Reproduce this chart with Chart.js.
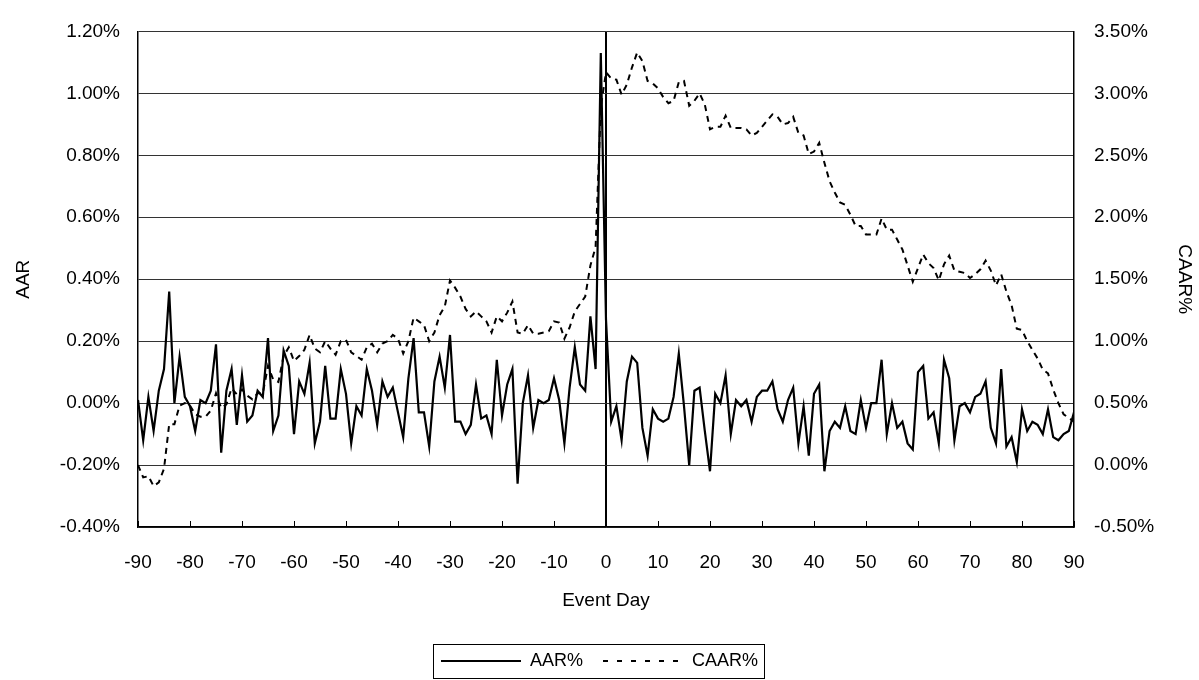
<!DOCTYPE html>
<html>
<head>
  <meta charset="UTF-8">
  <title>AAR and CAAR around the event day</title>
  <script src="https://cdn.jsdelivr.net/npm/chart.js"></script>
  <style>
    body { margin: 0; background: #fff; }
    #wrap { width: 1199px; height: 680px; }
  </style>
</head>
<body>
  <div id="wrap"><canvas id="eventChart" width="1199" height="680"></canvas></div>

  <script>
    // event days -90 .. 90
    const days = [
      -90, -89, -88, -87, -86, -85, -84, -83, -82, -81,
      -80, -79, -78, -77, -76, -75, -74, -73, -72, -71,
      -70, -69, -68, -67, -66, -65, -64, -63, -62, -61,
      -60, -59, -58, -57, -56, -55, -54, -53, -52, -51,
      -50, -49, -48, -47, -46, -45, -44, -43, -42, -41,
      -40, -39, -38, -37, -36, -35, -34, -33, -32, -31,
      -30, -29, -28, -27, -26, -25, -24, -23, -22, -21,
      -20, -19, -18, -17, -16, -15, -14, -13, -12, -11,
      -10, -9, -8, -7, -6, -5, -4, -3, -2, -1,
      0, 1, 2, 3, 4, 5, 6, 7, 8, 9,
      10, 11, 12, 13, 14, 15, 16, 17, 18, 19,
      20, 21, 22, 23, 24, 25, 26, 27, 28, 29,
      30, 31, 32, 33, 34, 35, 36, 37, 38, 39,
      40, 41, 42, 43, 44, 45, 46, 47, 48, 49,
      50, 51, 52, 53, 54, 55, 56, 57, 58, 59,
      60, 61, 62, 63, 64, 65, 66, 67, 68, 69,
      70, 71, 72, 73, 74, 75, 76, 77, 78, 79,
      80, 81, 82, 83, 84, 85, 86, 87, 88, 89,
      90
    ];

    // average abnormal return, % (left axis)
    const aar = [
      0.01, -0.12, 0.02, -0.09, 0.04, 0.11, 0.36, 0.00, 0.15, 0.02,
      -0.01, -0.09, 0.01, 0.00, 0.04, 0.19, -0.16, 0.04, 0.11, -0.07,
      0.09, -0.06, -0.04, 0.04, 0.02, 0.21, -0.09, -0.04, 0.17, 0.12,
      -0.10, 0.07, 0.03, 0.13, -0.13, -0.06, 0.12, -0.05, -0.05, 0.11,
      0.03, -0.13, -0.01, -0.04, 0.11, 0.04, -0.07, 0.07, 0.02, 0.05,
      -0.03, -0.11, 0.08, 0.21, -0.03, -0.03, -0.14, 0.07, 0.15, 0.05,
      0.22, -0.06, -0.06, -0.10, -0.07, 0.06, -0.05, -0.04, -0.10, 0.14,
      -0.04, 0.06, 0.11, -0.26, 0.00, 0.09, -0.08, 0.01, 0.00, 0.01,
      0.08, 0.01, -0.13, 0.05, 0.18, 0.06, 0.04, 0.28, 0.11, 1.13,
      0.27, -0.06, -0.01, -0.12, 0.07, 0.15, 0.13, -0.08, -0.17, -0.02,
      -0.05, -0.06, -0.05, 0.02, 0.16, -0.01, -0.20, 0.04, 0.05, -0.09,
      -0.22, 0.03, 0.00, 0.09, -0.10, 0.01, -0.01, 0.01, -0.06, 0.02,
      0.04, 0.04, 0.07, -0.02, -0.06, 0.01, 0.05, -0.13, -0.01, -0.17,
      0.03, 0.06, -0.22, -0.09, -0.06, -0.08, -0.01, -0.09, -0.10, 0.01,
      -0.08, 0.00, 0.00, 0.14, -0.10, 0.00, -0.08, -0.06, -0.13, -0.15,
      0.10, 0.12, -0.05, -0.03, -0.13, 0.14, 0.08, -0.12, -0.01, 0.00,
      -0.03, 0.02, 0.03, 0.07, -0.08, -0.13, 0.11, -0.14, -0.11, -0.19,
      -0.02, -0.09, -0.06, -0.07, -0.10, -0.02, -0.11, -0.12, -0.10, -0.09,
      -0.03
    ];

    // cumulative average abnormal return, % (right axis)
    const caar = [
      0.00, -0.10, -0.09, -0.17, -0.14, -0.03, 0.33, 0.33, 0.48, 0.50,
      0.48, 0.41, 0.39, 0.39, 0.44, 0.58, 0.46, 0.49, 0.62, 0.57,
      0.61, 0.56, 0.53, 0.58, 0.58, 0.80, 0.69, 0.67, 0.88, 0.95,
      0.84, 0.88, 0.93, 1.05, 0.94, 0.91, 1.00, 0.94, 0.89, 1.00,
      1.01, 0.91, 0.88, 0.85, 0.95, 0.98, 0.91, 0.98, 1.00, 1.05,
      1.02, 0.90, 1.00, 1.19, 1.16, 1.13, 1.00, 1.07, 1.21, 1.28,
      1.49, 1.43, 1.36, 1.26, 1.20, 1.24, 1.20, 1.16, 1.07, 1.20,
      1.16, 1.23, 1.32, 1.07, 1.06, 1.13, 1.06, 1.06, 1.07, 1.08,
      1.16, 1.15, 1.02, 1.11, 1.24, 1.30, 1.36, 1.61, 1.76, 2.89,
      3.17, 3.12, 3.11, 2.99, 3.07, 3.21, 3.33, 3.26, 3.10, 3.08,
      3.04, 2.97, 2.92, 2.94, 3.09, 3.10, 2.90, 2.94, 3.00, 2.91,
      2.71, 2.73, 2.73, 2.82, 2.72, 2.72, 2.72, 2.71, 2.66, 2.68,
      2.73, 2.78, 2.83, 2.81, 2.75, 2.76, 2.81, 2.68, 2.66, 2.51,
      2.53, 2.60, 2.44, 2.29, 2.20, 2.12, 2.10, 2.02, 1.93, 1.93,
      1.86, 1.86, 1.86, 1.99, 1.90, 1.90, 1.82, 1.74, 1.61, 1.48,
      1.59, 1.70, 1.63, 1.59, 1.49, 1.62, 1.69, 1.57, 1.56, 1.55,
      1.51, 1.54, 1.58, 1.65, 1.57, 1.45, 1.54, 1.40, 1.29, 1.10,
      1.09, 1.00, 0.93, 0.86, 0.77, 0.74, 0.61, 0.50, 0.41, 0.38,
      0.35
    ];

    const FONT = "'Liberation Sans', Arial, sans-serif";

    // small tick marks pointing up into the plot, like the original
    const insideTicks = {
      id: 'insideTicks',
      afterDatasetsDraw(chart) {
        const x = chart.scales.x, ctx = chart.ctx, bottom = chart.chartArea.bottom;
        ctx.save();
        ctx.strokeStyle = '#000';
        ctx.lineWidth = 1;
        x.ticks.forEach(t => {
          const px = Math.round(x.getPixelForValue(t.value)) + 0.5;
          ctx.beginPath();
          ctx.moveTo(px, bottom);
          ctx.lineTo(px, bottom - 6);
          ctx.stroke();
        });
        ctx.restore();
      }
    };

    // frame round the legend
    const legendFrame = {
      id: 'legendFrame',
      afterDraw(chart) {
        const boxes = chart.legend && chart.legend.legendHitBoxes;
        if (!boxes || !boxes.length) return;
        const l = Math.min(...boxes.map(b => b.left)) - 8;
        const r = Math.max(...boxes.map(b => b.left + b.width)) + 6;
        const t = Math.min(...boxes.map(b => b.top)) - 8;
        const b2 = Math.max(...boxes.map(b => b.top + b.height)) + 8;
        const ctx = chart.ctx;
        ctx.save();
        ctx.strokeStyle = '#000';
        ctx.lineWidth = 1;
        ctx.strokeRect(Math.round(l) + 0.5, Math.round(t) + 0.5, Math.round(r - l), Math.round(b2 - t));
        ctx.restore();
      }
    };

    new Chart(document.getElementById('eventChart'), {
      type: 'line',
      data: {
        labels: days,
        datasets: [
          {
            label: 'AAR%',
            data: aar,
            yAxisID: 'y',
            borderColor: '#000',
            backgroundColor: '#000',
            borderWidth: 2.2,
            pointRadius: 0,
            tension: 0
          },
          {
            label: 'CAAR%',
            data: caar,
            yAxisID: 'y1',
            borderColor: '#000',
            backgroundColor: '#000',
            borderWidth: 2,
            borderDash: [6, 5],
            pointRadius: 0,
            tension: 0
          }
        ]
      },
      options: {
        responsive: false,
        animation: false,
        layout: { padding: { top: 18, left: 0, right: 0, bottom: 0 } },
        plugins: {
          tooltip: { enabled: false },
          legend: {
            position: 'bottom',
            labels: {
              usePointStyle: true,
              pointStyle: 'line',
              pointStyleWidth: 80,
              color: '#000',
              font: { family: FONT, size: 18 },
              padding: 20,
              generateLabels(chart) {
                const items = Chart.defaults.plugins.legend.labels.generateLabels(chart);
                items.forEach(it => {
                  const ds = chart.data.datasets[it.datasetIndex];
                  it.lineDash = ds.borderDash ? [5, 9] : [];
                  it.lineWidth = 2;
                  it.strokeStyle = '#000';
                });
                return items;
              }
            }
          }
        },
        scales: {
          x: {
            type: 'linear',
            min: -90,
            max: 90,
            afterFit(scale) { scale.height = 680 - 527 - scale.chart.legend.height; },
            ticks: {
              stepSize: 10,
              color: '#000',
              padding: 24,
              maxRotation: 0,
              font: { family: FONT, size: 19 },
              callback: v => String(v)
            },
            grid: {
              drawTicks: false,
              color: c => (c.tick && c.tick.value === 0 ? '#000' : 'rgba(0,0,0,0)'),
              lineWidth: 2
            },
            border: { display: true, color: '#000', width: 1.5 },
            title: {
              display: true,
              text: 'Event Day',
              color: '#000',
              font: { family: FONT, size: 19 },
              padding: { top: 0, bottom: 20 }
            }
          },
          y: {
            position: 'left',
            min: -0.4,
            max: 1.2,
            afterFit(scale) { scale.width = 138; },
            ticks: {
              stepSize: 0.2,
              color: '#000',
              padding: 18,
              font: { family: FONT, size: 19 },
              callback: v => v.toFixed(2) + '%'
            },
            grid: { drawTicks: false, color: '#333', lineWidth: 1 },
            border: { display: true, color: '#000', width: 1.5 },
            title: {
              display: true,
              text: 'AAR',
              color: '#000',
              font: { family: FONT, size: 19 },
              padding: { top: 12, bottom: 0 }
            }
          },
          y1: {
            position: 'right',
            min: -0.5,
            max: 3.5,
            afterFit(scale) { scale.width = 125; },
            ticks: {
              stepSize: 0.5,
              color: '#000',
              padding: 20,
              font: { family: FONT, size: 19 },
              callback: v => v.toFixed(2) + '%'
            },
            grid: { drawOnChartArea: false, drawTicks: false },
            border: { display: true, color: '#000', width: 1.5 },
            title: {
              display: true,
              text: 'CAAR%',
              color: '#000',
              font: { family: FONT, size: 19 },
              padding: { top: 3, bottom: 0 }
            }
          }
        }
      },
      plugins: [insideTicks, legendFrame]
    });
  </script>
</body>
</html>
